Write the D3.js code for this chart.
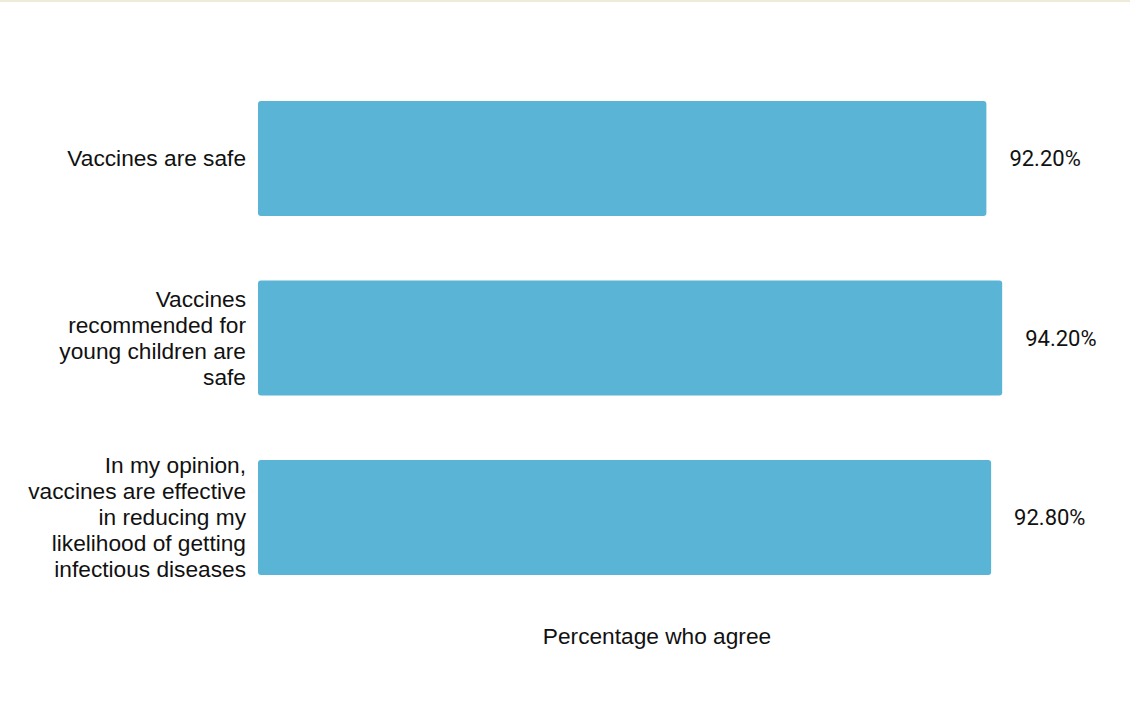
<!DOCTYPE html>
<html>
<head>
<meta charset="utf-8">
<script src="https://cdn.jsdelivr.net/npm/d3@7"></script>
<style>
  html, body { margin: 0; padding: 0; background: #ffffff; }
  svg { display: block; }
</style>
</head>
<body>
<script>
// Survey statements and share of respondents who agree (%)
const categories = [
  ["Vaccines are safe"],
  ["Vaccines", "recommended for", "young children are", "safe"],
  ["In my opinion,", "vaccines are effective", "in reducing my", "likelihood of getting", "infectious diseases"]
];
const values = [92.2, 94.2, 92.8];
const valueLabels = ["92.20%", "94.20%", "92.80%"];
const axisTitle = "Percentage who agree";

const W = 1130, H = 704;
const svg = d3.select("body").append("svg").attr("width", W).attr("height", H);

// thin band across the top edge
svg.append("rect").attr("x", 0).attr("y", 0).attr("width", W).attr("height", 2).attr("fill", "#eeebd9");

const ids = d3.range(categories.length);
const x = d3.scaleLinear().domain([0, 100]).range([258, 1048]);
const y = d3.scaleBand().domain(ids).range([36.4, 639.5]).padding(0.36);

const barColor = "#59b4d6";
const textColor = "#111111";

svg.append("g").selectAll("rect")
  .data(ids)
  .join("rect")
  .attr("x", x(0))
  .attr("y", i => y(i))
  .attr("width", i => x(values[i]) - x(0))
  .attr("height", y.bandwidth())
  .attr("rx", 3)
  .attr("fill", barColor);

// value labels after each bar
svg.append("g").selectAll("text")
  .data(ids)
  .join("text")
  .attr("x", i => x(values[i]) + 23)
  .attr("y", i => y(i) + y.bandwidth() / 2)
  .attr("dy", "0.35em")
  .attr("font-family", "Roboto, 'Liberation Sans', sans-serif")
  .attr("font-size", 22)
  .attr("fill", textColor)
  .text(i => valueLabels[i]);

// wrapped category labels, right-aligned left of the bars
const lineH = 26;
const catG = svg.append("g")
  .attr("font-family", "'Liberation Sans', Arial, sans-serif")
  .attr("font-size", 22.7)
  .attr("fill", textColor)
  .attr("text-anchor", "end");

ids.forEach(i => {
  const lines = categories[i];
  const cy = y(i) + y.bandwidth() / 2;
  const t = catG.append("text").attr("x", 246).attr("y", cy);
  lines.forEach((ln, k) => {
    t.append("tspan")
      .attr("x", 246)
      .attr("y", cy + (k - (lines.length - 1) / 2) * lineH)
      .attr("dy", "0.35em")
      .text(ln);
  });
});

// axis title
svg.append("text")
  .attr("x", 657)
  .attr("y", 636)
  .attr("dy", "0.35em")
  .attr("text-anchor", "middle")
  .attr("font-family", "'Liberation Sans', Arial, sans-serif")
  .attr("font-size", 22.7)
  .attr("fill", textColor)
  .text(axisTitle);
</script>
</body>
</html>
